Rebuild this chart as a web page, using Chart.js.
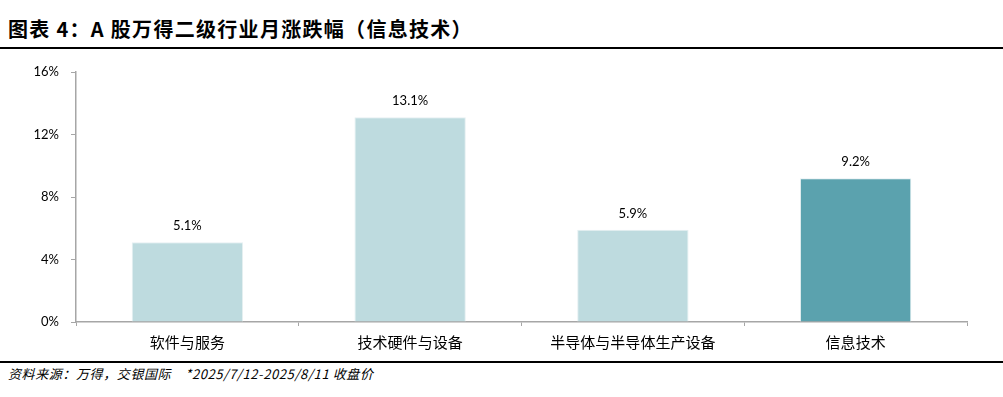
<!DOCTYPE html>
<html>
<head>
<meta charset="utf-8">
<script src="https://cdn.jsdelivr.net/npm/chart.js@4.4.1/dist/chart.umd.min.js"></script>
<style>
  body { margin: 0; background: #fff; width: 1003px; height: 397px; position: relative; overflow: hidden; }
  .title { position: absolute; left: 8px; top: 14px; font: bold 20px "Noto Sans CJK SC", sans-serif; letter-spacing: 1.3px; color: #000; white-space: nowrap; }
  .rule { position: absolute; left: 0; width: 1003px; height: 2px; background: #000; }
  .source { position: absolute; left: 8px; top: 364px; font: italic 13px "Noto Sans CJK SC", sans-serif; letter-spacing: 0.6px; color: #000; white-space: nowrap; }
  #wrap { position: absolute; left: 0; top: 50px; width: 1003px; height: 310px; }
</style>
</head>
<body>
<div class="title">图表 4：A 股万得二级行业月涨跌幅（信息技术）</div>
<div class="rule" style="top:47px"></div>
<div id="wrap"><canvas id="chart"></canvas></div>
<div class="rule" style="top:361px"></div>
<div class="source">资料来源：万得，交银国际&nbsp;&nbsp;&nbsp;&nbsp;*2025/7/12-2025/8/11 收盘价</div>
<script>
const categories = ["软件与服务", "技术硬件与设备", "半导体与半导体生产设备", "信息技术"];
const values = [5.1, 13.1, 5.9, 9.2];
const barColors = ["#bedbdf", "#bedbdf", "#bedbdf", "#5ba2ae"];
const yTicks = [0, 4, 8, 12, 16];

// value labels above each bar
const valueLabels = {
  id: "valueLabels",
  afterDatasetsDraw(chart) {
    const ctx = chart.ctx;
    const meta = chart.getDatasetMeta(0);
    ctx.save();
    ctx.font = '13px Lato, "Open Sans", sans-serif';
    ctx.fillStyle = "#000";
    ctx.textAlign = "center";
    ctx.textBaseline = "bottom";
    meta.data.forEach((bar, i) => {
      ctx.fillText(values[i].toFixed(1) + "%", bar.x, bar.y - 10);
    });
    ctx.restore();
  }
};

new Chart(document.getElementById("chart"), {
  type: "bar",
  data: {
    labels: categories,
    datasets: [{
      data: values,
      backgroundColor: barColors,
      borderColor: "#e6f0f2",
      borderWidth: 1,
      categoryPercentage: 1,
      barPercentage: 0.5
    }]
  },
  options: {
    responsive: true,
    maintainAspectRatio: false,
    animation: false,
    layout: { padding: { top: 22, right: 36, left: 0, bottom: 0 } },
    plugins: { legend: { display: false }, tooltip: { enabled: false } },
    scales: {
      x: {
        grid: { drawOnChartArea: false, drawTicks: true, tickLength: 4, color: "#a6a6a6", offset: true },
        border: { color: "#a6a6a6", width: 1.5 },
        ticks: { color: "#000", padding: 7, maxRotation: 0, font: { family: '"Noto Sans CJK SC", sans-serif', size: 15 } },
        afterFit(scale) { scale.height = 38; }
      },
      y: {
        min: 0,
        max: 16,
        afterBuildTicks(scale) { scale.ticks = yTicks.map(v => ({ value: v })); },
        grid: { drawOnChartArea: false, drawTicks: true, tickLength: 5, color: "#a6a6a6" },
        border: { color: "#a6a6a6", width: 1.5 },
        ticks: {
          color: "#000",
          padding: 12,
          font: { family: 'Lato, "Open Sans", sans-serif', size: 13 },
          callback: v => v + "%"
        },
        afterFit(scale) { scale.width = 76; }
      }
    }
  },
  plugins: [valueLabels]
});
</script>
</body>
</html>
